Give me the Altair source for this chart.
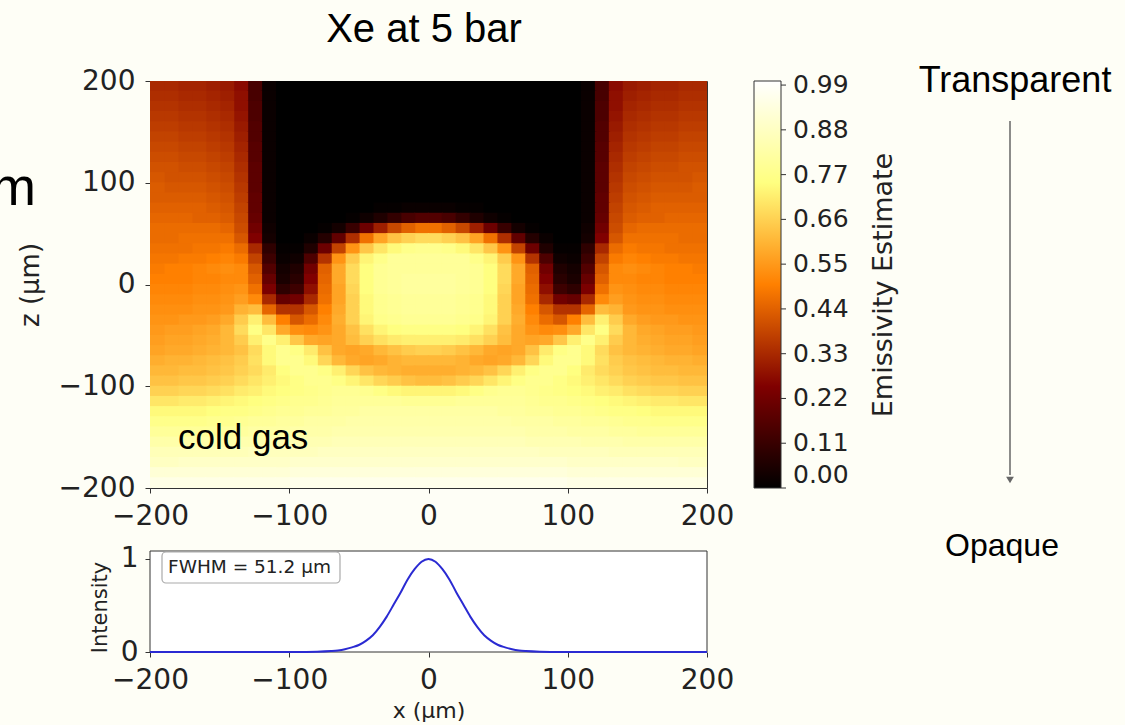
import altair as alt
import pandas as pd

# ---------------- data ----------------
# half-width column centres (the map is mirrored about x = 0)
x_centers_half = [5, 15, 25, 35, 45, 55, 65, 75, 85, 95, 105, 115, 125, 135, 145, 155, 165, 175, 185, 195]
z_centers = [195, 185, 175, 165, 155, 145, 135, 125, 115, 105, 95, 85, 75, 65, 55, 45, 35, 25, 15, 5,
             -5, -15, -25, -35, -45, -55, -65, -75, -85, -95, -105, -115, -125, -135, -145, -155,
             -165, -175, -185, -195]
# emissivity x100, one row per z centre, columns = x_centers_half
emissivity_rows = [
    "0 0 0 0 0 0 0 0 0 0 0 2 14 27 30 31 32 32 33 33",
    "0 0 0 0 0 0 0 0 0 0 0 2 14 28 31 32 33 33 34 34",
    "0 0 0 0 0 0 0 0 0 0 0 2 15 28 32 33 34 34 35 35",
    "0 0 0 0 0 0 0 0 0 0 0 2 15 29 33 34 35 35 36 36",
    "0 0 0 0 0 0 0 0 0 0 0 2 16 30 34 35 36 36 37 37",
    "0 0 0 0 0 0 0 0 0 0 0 2 16 31 35 36 37 37 38 38",
    "0 0 0 0 0 0 0 0 0 0 0 2 17 32 36 37 38 38 39 39",
    "0 0 0 0 0 0 0 0 0 0 0 2 17 33 37 38 39 39 40 40",
    "0 0 0 0 0 0 0 0 0 0 0 2 18 34 38 39 40 40 41 41",
    "0 0 0 0 0 0 0 0 0 0 0 2 18 35 39 40 41 41 41 42",
    "0 0 0 0 0 0 0 0 0 0 0 2 18 36 40 41 42 42 42 43",
    "0 0 0 0 0 0 0 0 0 0 0 2 19 37 41 42 43 43 43 43",
    "2 2 1 1 0 0 0 0 0 0 0 2 19 38 42 43 44 44 44 44",
    "16 14 10 6 3 1 0 0 0 0 0 2 20 39 43 44 44 45 45 45",
    "47 44 39 31 21 11 4 1 0 0 0 3 22 40 45 46 46 46 46 46",
    "68 66 63 57 47 34 19 7 2 0 0 4 25 42 47 47 47 47 46 46",
    "78 77 74 70 64 54 38 21 6 1 1 9 33 46 49 48 48 47 47 47",
    "80 80 80 77 73 65 54 35 15 3 2 12 38 49 51 50 49 49 48 48",
    "80 80 80 79 75 68 58 44 22 6 4 16 42 52 53 52 51 50 50 49",
    "81 81 80 79 75 68 58 45 25 8 5 20 44 52 52 51 51 50 50 50",
    "81 81 80 79 75 67 57 46 28 12 9 24 47 54 53 52 52 51 51 51",
    "80 80 79 78 74 66 57 47 33 22 20 33 52 56 54 53 53 52 52 52",
    "80 80 79 78 74 66 58 50 42 35 35 45 62 60 55 54 54 53 53 53",
    "79 79 78 77 73 66 59 52 46 42 50 62 72 65 58 56 55 55 54 54",
    "76 76 75 73 69 63 58 54 52 53 58 70 76 68 61 58 57 56 56 55",
    "72 72 71 69 66 62 58 57 58 64 72 77 72 65 61 59 58 57 57 56",
    "66 65 63 61 58 57 58 63 71 76 78 74 68 63 61 60 59 58 58 57",
    "61 61 60 58 57 58 61 67 74 78 78 74 69 65 63 62 61 60 60 59",
    "59 59 60 61 63 67 72 76 78 78 75 71 68 66 64 63 62 62 61 61",
    "62 63 65 67 70 73 76 78 78 76 74 72 70 68 66 65 64 64 63 63",
    "73 73 74 76 78 79 79 78 77 76 75 74 72 71 69 68 67 67 66 66",
    "79 79 80 80 80 80 80 79 78 78 77 76 75 74 73 72 71 71 70 70",
    "82 82 82 82 82 81 81 80 80 79 79 78 77 76 76 75 74 74 74 74",
    "83 83 83 83 83 83 82 82 82 81 81 80 80 79 78 78 77 77 77 77",
    "84 84 84 84 84 84 84 83 83 83 82 82 82 81 81 80 80 80 80 80",
    "86 86 86 86 86 86 86 85 85 85 85 84 84 84 83 83 83 83 83 83",
    "88 88 88 88 88 88 88 88 87 87 87 87 87 86 86 86 86 86 86 86",
    "90 90 90 90 90 90 90 90 90 90 89 89 89 89 89 89 89 89 88 88",
    "93 93 93 93 93 93 93 93 93 93 92 92 92 92 92 92 92 92 92 92",
    "96 96 96 96 96 96 96 96 96 96 95 95 95 95 95 95 95 95 95 95",
]
cell_half_width = 5
seam_overlap = 0.5   # cells overlap a hair so no hairline seams show

# lineout below the map
intensity_x = [-200, -150, -100, -90, -80, -70, -65, -60, -55, -50, -45, -40, -35, -30, -25, -20, -15, -10, -5, 0,
               5, 10, 15, 20, 25, 30, 35, 40, 45, 50, 55, 60, 65, 70, 80, 90, 100, 150, 200]
intensity_y = [0.0, 0.0, 0.0, 0.001, 0.003, 0.01, 0.017, 0.03, 0.05, 0.075, 0.12, 0.18, 0.27, 0.38, 0.51, 0.64, 0.78, 0.89, 0.97, 1.0,
               0.97, 0.89, 0.78, 0.64, 0.51, 0.38, 0.27, 0.18, 0.12, 0.075, 0.05, 0.03, 0.017, 0.01, 0.003, 0.001, 0.0, 0.0, 0.0]

axis_ticks = [-200, -100, 0, 100, 200]
cbar_ticks = [0.00, 0.11, 0.22, 0.33, 0.44, 0.55, 0.66, 0.77, 0.88, 0.99]
afmhot_stops = [0, 0.25, 0.5, 0.75, 1.0]
afmhot_colors = ["#000000", "#800000", "#ff8000", "#ffff80", "#ffffff"]

# ---------------- tables ----------------
records = []
hw = cell_half_width + seam_overlap
for zc, row in zip(z_centers, emissivity_rows):
    vals = [int(s) / 100 for s in row.split()]
    for xc, v in zip(x_centers_half, vals):
        for sgn in (1, -1):
            x = sgn * xc
            records.append({"x0": x - hw, "x1": x + hw, "z0": zc - hw, "z1": zc + hw, "v": v})
heat_df = pd.DataFrame(records)
int_df = pd.DataFrame({"x": intensity_x, "I": intensity_y})
cbar_df = pd.DataFrame({"t": cbar_ticks})
one = pd.DataFrame({"a": [0]})

W, H = 557, 407
BG = "#FEFEF6"
DJ = "DejaVu Sans"
LS = "Liberation Sans"

cscale = alt.Scale(domain=afmhot_stops, range=afmhot_colors, interpolate="rgb")
xscale = alt.Scale(domain=[-200, 200], nice=False, zero=False)
zscale = alt.Scale(domain=[-200, 200], nice=False, zero=False)

heat = alt.Chart(heat_df).mark_rect(clip=True).encode(
    x=alt.X("x0:Q", scale=xscale,
            axis=alt.Axis(orient="bottom", values=axis_ticks, title=None, labelPadding=9)),
    x2="x1:Q",
    y=alt.Y("z0:Q", scale=zscale,
            axis=alt.Axis(orient="left", values=axis_ticks, title="z (μm)", labelPadding=10,
                          titleX=-112, titleY=203.5, titleAngle=270, titleAlign="center",
                          titleBaseline="alphabetic", titleFontSize=26)),
    y2="z1:Q",
    color=alt.Color("v:Q", scale=cscale,
                    legend=alt.Legend(type="gradient", orient="none", legendX=604, legendY=0,
                                      direction="vertical",
                                      gradientLength=407, gradientThickness=27, values=cbar_ticks,
                                      format=".2f", title=None, labelFont=DJ, labelFontSize=25,
                                      labelColor="#222", labelOffset=12, labelBaseline="middle",
                                      gradientStrokeColor="#333", gradientStrokeWidth=1,
                                      padding=0, labelOverlap=False)),
)

cbar_tick = alt.Chart(cbar_df).transform_calculate(zt="datum.t * 400 - 200").mark_rule(
    color="#333", strokeWidth=1).encode(
    y=alt.Y("zt:Q", scale=zscale, axis=None),
    x=alt.value(631), x2=alt.value(636),
)

panel = alt.Chart(one).mark_rect(fill="white", stroke="#333", strokeWidth=1).encode(
    x=alt.value(0), x2=alt.value(W), y=alt.value(470), y2=alt.value(571))

fwhm_box = alt.Chart(one).mark_rect(fill="white", stroke="#aaa", strokeWidth=1.2, cornerRadius=4).encode(
    x=alt.value(12), x2=alt.value(190), y=alt.value(471), y2=alt.value(502))

line = alt.Chart(int_df).mark_line(color="#2a2ad2", strokeWidth=2, interpolate="monotone").encode(
    x=alt.X("x:Q", scale=xscale,
            axis=alt.Axis(orient="bottom", offset=164, values=axis_ticks, title="x (μm)", labelPadding=9,
                          titleX=278.5, titleY=65, titleBaseline="alphabetic", titleAlign="center",
                          titleFontSize=22)),
    y=alt.Y("I:Q", scale=alt.Scale(domain=[0, 1.085], range=[571, 470], nice=False, zero=False),
            axis=alt.Axis(orient="left", values=[0, 1], format="d", title="Intensity", labelPadding=7,
                          titleX=-44, titleY=526, titleAngle=270, titleAlign="center",
                          titleBaseline="alphabetic", titleFontSize=21)),
)


def label(text, x, y, size, font=LS, align="center", angle=0, color="#000"):
    return alt.Chart(one).mark_text(text=text, fontSize=size, font=font, align=align,
                                    baseline="alphabetic", angle=angle, color=color).encode(
        x=alt.value(x), y=alt.value(y))


texts = [
    label("Xe at 5 bar", 274, -39, 40),
    label("m", -114, 124, 54, align="right"),
    label("Transparent", 865, 11, 36),
    label("Opaque", 852, 475, 32),
    label("cold gas", 28, 368, 35, align="left"),
    label("Emissivity Estimate", 742, 204, 27, font=DJ, angle=270, color="#222"),
    label("FWHM = 51.2 μm", 18, 492, 18.5, font=DJ, align="left", color="#222"),
]

arrow = alt.Chart(one).mark_rule(color="#666", strokeWidth=1.5).encode(
    x=alt.value(860), y=alt.value(40), y2=alt.value(394))
arrow_head = alt.Chart(one).mark_point(shape="triangle-down", filled=True, color="#666", size=60, opacity=1).encode(
    x=alt.value(860), y=alt.value(399))

chart = alt.layer(heat, cbar_tick, panel, fwhm_box, line, arrow, arrow_head, *texts).resolve_scale(
    x="independent", y="independent"
).properties(
    width=W, height=H,
    autosize=alt.AutoSizeParams(type="none"),
    padding={"left": 150, "top": 81, "right": 1125 - 150 - W, "bottom": 725 - 81 - H},
    background=BG,
).configure_view(stroke="#333", strokeWidth=1).configure_axis(
    labelFont=DJ, labelFontSize=28, labelColor="#222", tickColor="#333", tickSize=5, tickWidth=1,
    domain=False, grid=False, labelFlush=False, labelOverlap=False,
    titleFont=DJ, titleColor="#222", titleFontWeight="normal",
)

chart.save("out.html", embed_options={"renderer": "svg", "actions": False})
